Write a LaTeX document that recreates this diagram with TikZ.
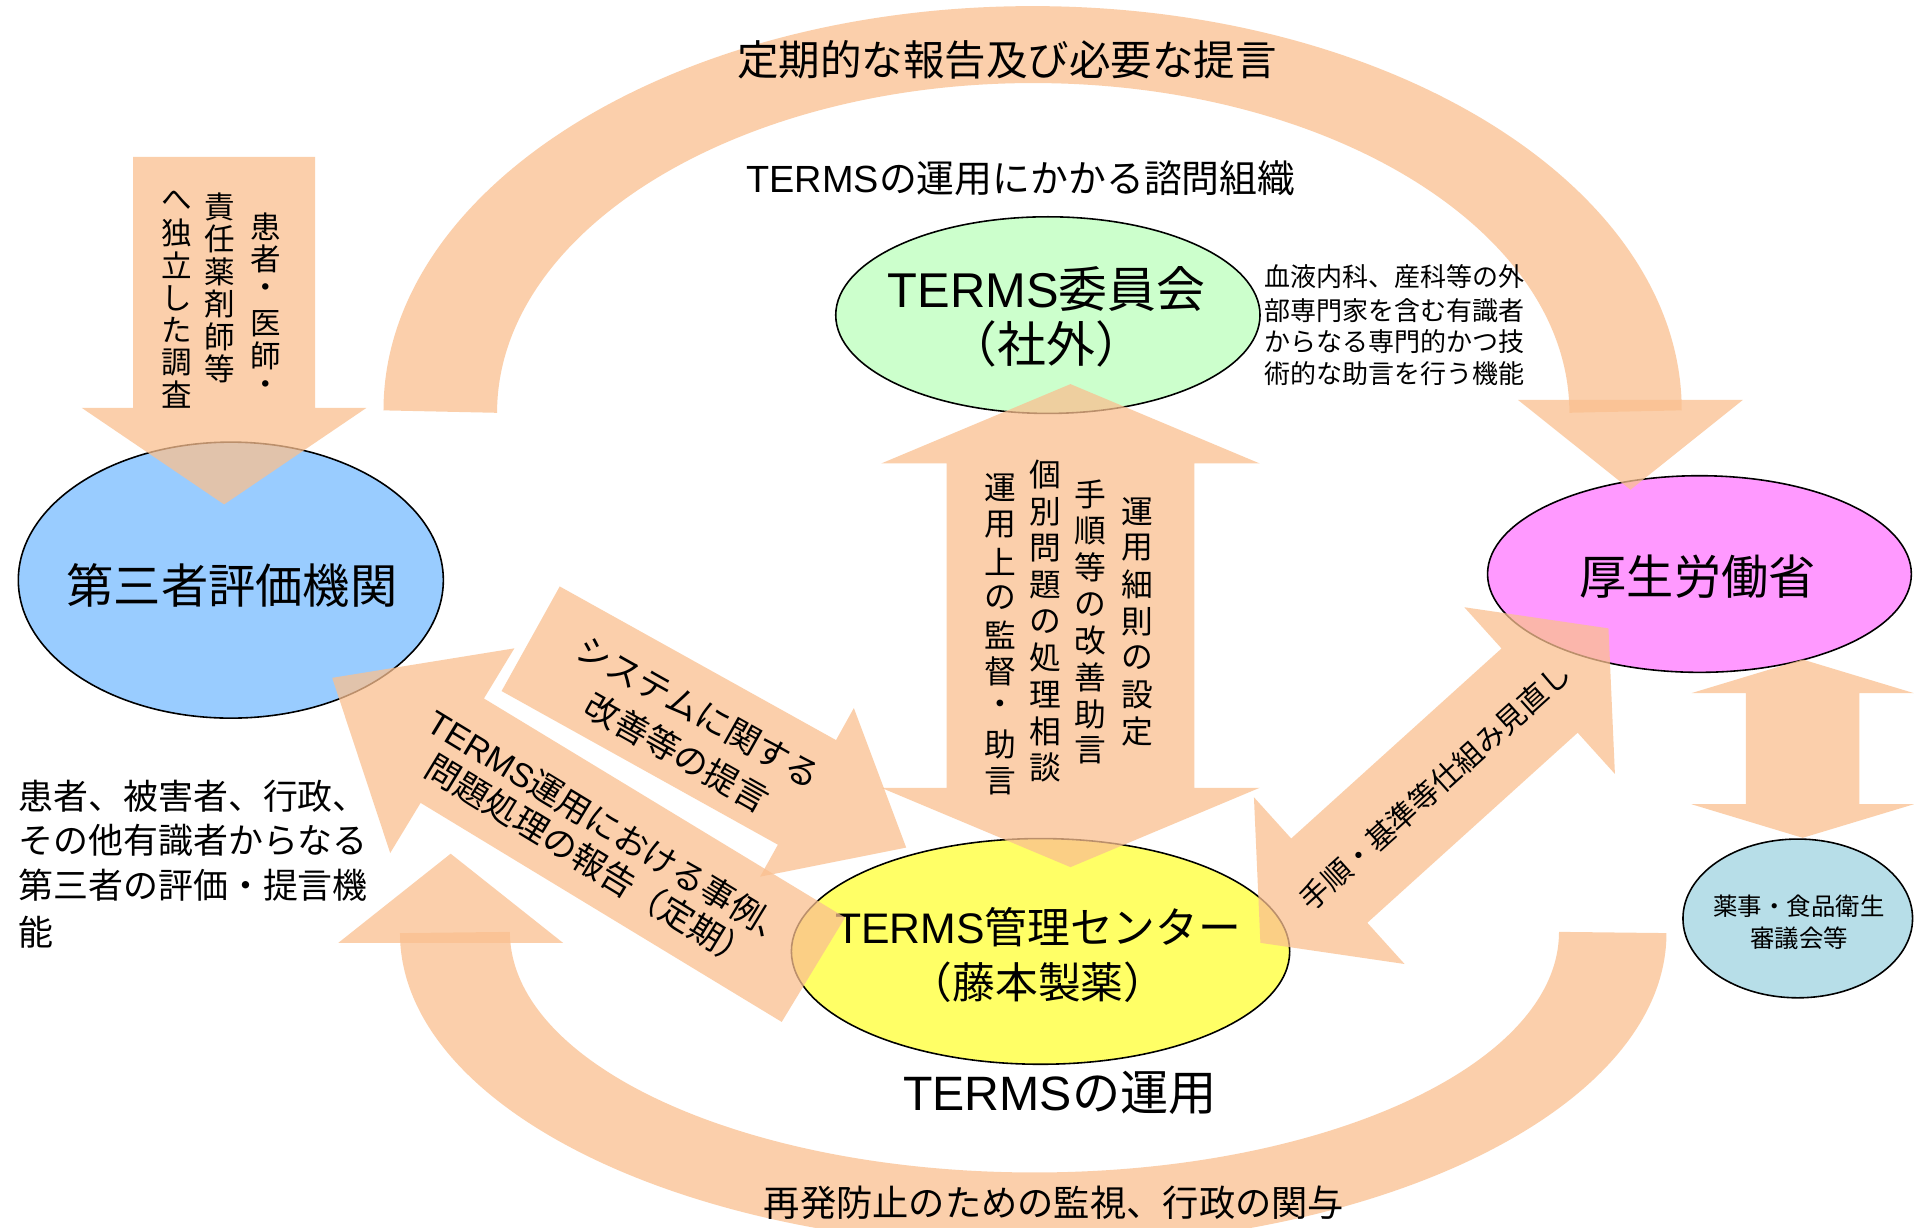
\documentclass[tikz,border=0pt]{standalone}
\usepackage{fontspec}
\setmainfont{Noto Sans CJK JP}
\newfontfamily\latf{Liberation Sans}
\usetikzlibrary{calc,shapes.geometric}
\definecolor{arrowc}{RGB}{250,192,144}
\definecolor{bluec}{RGB}{153,204,255}
\definecolor{greenc}{RGB}{204,255,204}
\definecolor{pinkc}{RGB}{255,153,255}
\definecolor{yellowc}{RGB}{255,255,102}
\definecolor{tealc}{RGB}{183,222,232}
\ExplSyntaxOn
\NewDocumentCommand\vtext{mm}{
  \vbox{\offinterlineskip
    \tl_map_inline:nn {#2}{\hbox to #1{\hss\vbox to #1{\vss\hbox{##1}\vss}\hss}}}}
\ExplSyntaxOff
\newcommand\fs[2]{\fontsize{#1}{#2}\selectfont}
% single-headed block arrow: tail, tip, body half width, head half width, head length
\newcommand\blockarrow[5]{%
  \coordinate (tmpH) at ($(#2)!#5!(#1)$);
  \fill[bandfill] ($(#1)!#3!90:(#2)$) -- ($(tmpH)!#3!90:(#2)$) -- ($(tmpH)!#4!90:(#2)$) -- (#2)
    -- ($(tmpH)!#4!-90:(#2)$) -- ($(tmpH)!#3!-90:(#2)$) -- ($(#1)!#3!-90:(#2)$) -- cycle;}
% double-headed block arrow: tip A, tip B, body half width, head half width, head length
\newcommand\dblarrow[5]{%
  \coordinate (tmpP) at ($(#1)!#5!(#2)$);
  \coordinate (tmpQ) at ($(#2)!#5!(#1)$);
  \fill[bandfill] (#1) -- ($(tmpP)!#4!90:(#2)$) -- ($(tmpP)!#3!90:(#2)$) -- ($(tmpQ)!#3!90:(#2)$)
    -- ($(tmpQ)!#4!90:(#2)$) -- (#2) -- ($(tmpQ)!#4!-90:(#2)$) -- ($(tmpQ)!#3!-90:(#2)$)
    -- ($(tmpP)!#3!-90:(#2)$) -- ($(tmpP)!#4!-90:(#2)$) -- cycle;}
\begin{document}
\begin{tikzpicture}[x=1pt,y=-1pt,
  bandfill/.style={fill=arrowc,fill opacity=0.75},
  oval/.style={ellipse,draw=black,line width=1.3pt,inner sep=0pt},
  lbl/.style={inner sep=0pt,align=center},
  vlbl/.style={inner sep=0pt,anchor=north}]
\clip (0,0) rectangle (1568,1005);
\fill[white] (0,0) rectangle (1568,1005);

% ---- ellipses
\node[oval,fill=bluec,minimum width=348pt,minimum height=226pt] (hyoka) at (189,475) {};
\node[oval,fill=greenc,minimum width=347.4pt,minimum height=161pt] (iinkai) at (858,258) {};
\node[oval,fill=pinkc,minimum width=347pt,minimum height=161pt] (mhlw) at (1391.5,470) {};
\node[oval,fill=yellowc,minimum width=408pt,minimum height=184.8pt] (kanri) at (852,779) {};
\node[oval,fill=tealc,minimum width=188pt,minimum height=130pt] (shingi) at (1472,752) {};

\node[lbl,font=\fs{38.7}{46}] (hyokaT) at (190,479) {第三者評価機関};
\node[lbl,font=\fs{40}{45}] (iinkaiT) at (857,259.5) {{\latf TERMS}委員会\\（社外）};
\node[lbl,font=\fs{38.6}{46}] (mhlwT) at (1390,472) {厚生労働省};
\node[lbl,font=\fs{35}{45.5}] (kanriT) at (850,782) {{\latf TERMS}管理センター\\（藤本製薬）};
\node[lbl,font=\fs{20}{26}] (shingiT) at (1473,755) {薬事・食品衛生\\審議会等};

% ---- top curved arrow
\fill[bandfill] (314,336) arc[start angle=180,end angle=0,x radius=531.5pt,y radius=331pt]
  -- (1285,338) arc[start angle=0,end angle=180,x radius=439pt,y radius=270pt] -- cycle;
\coordinate (topTip) at (1335,401);
\fill[bandfill] (1243,327.5) -- (1427,327.5) -- (topTip) -- cycle;

% ---- bottom curved arrow
\fill[bandfill] (327.5,764) arc[start angle=180,end angle=360,x radius=518.5pt,y radius=257pt]
  -- (1276.5,763) arc[start angle=360,end angle=180,x radius=429.5pt,y radius=197pt] -- cycle;
\coordinate (botTip) at (369,699);
\fill[bandfill] (277,772) -- (461,772) -- (botTip) -- cycle;

% ---- straight arrows
\coordinate (vA) at (183.5,128.5); \coordinate (vB) at (183.5,413);
\blockarrow{vA}{vB}{74.6pt}{116.5pt}{79pt}
\coordinate (cA) at (876.5,710); \coordinate (cB) at (876.5,314.5);
\dblarrow{cA}{cB}{101.5pt}{155pt}{65pt}
\coordinate (rA) at (1476,686); \coordinate (rB) at (1476,540);
\dblarrow{rA}{rB}{46.5pt}{91pt}{27.5pt}
\coordinate (sA) at (434.5,523); \coordinate (sB) at (742,694);
\blockarrow{sA}{sB}{49pt}{79pt}{93pt}
\coordinate (tA) at (666,794); \coordinate (tB) at (272,555);
\blockarrow{tA}{tB}{50pt}{98pt}{115pt}
\coordinate (mA) at (1032,772); \coordinate (mB) at (1317,514.5);
\dblarrow{mA}{mB}{46.5pt}{92pt}{76pt}

% ---- texts on arrows
\node[vlbl] (v1) at (218,172) {\fs{25}{25}\vtext{26.5pt}{患者・医師・}};
\node[vlbl] (v2) at (180,156) {\fs{25}{25}\vtext{26.5pt}{責任薬剤師等}};
\node[vlbl] (v3) at (145,151) {\fs{25}{25}\vtext{26.5pt}{へ独立した調査}};

\node[vlbl] (c1) at (931,403.5) {\fs{26}{26}\vtext{30pt}{運用細則の設定}};
\node[vlbl] (c2) at (893,389.5) {\fs{26}{26}\vtext{30pt}{手順等の改善助言}};
\node[vlbl] (c3) at (856,373.5) {\fs{26}{26}\vtext{30pt}{個別問題の処理相談}};
\node[vlbl] (c4) at (819,384.5) {\fs{26}{26}\vtext{30pt}{運用上の監督・助言}};

\node[lbl,rotate=-29.3,font=\fs{28}{30}] (s1) at (572,583.4) {システムに関する};
\node[lbl,rotate=-29.3,font=\fs{28}{30}] (s2) at (554.5,616) {改善等の提言};
\node[lbl,rotate=-31.3,font=\fs{27.5}{30}] (t1) at (500,678) {{\latf TERMS}運用における事例、};
\node[lbl,rotate=-31.3,font=\fs{28}{30}] (t2) at (483,705) {問題処理の報告（定期）};
\node[lbl,rotate=42,font=\fs{24}{26}] (m1) at (1175,644) {手順・基準等仕組み見直し};

% ---- free texts
\node[lbl,font=\fs{34}{40}] (title) at (824.5,49) {定期的な報告及び必要な提言};
\node[lbl,font=\fs{31}{38}] (sub) at (836,145.7) {{\latf TERMS}の運用にかかる諮問組織};
\node[lbl,font=\fs{39.5}{44}] (unyo) at (868,895) {{\latf TERMS}の運用};
\node[lbl,font=\fs{29.7}{34}] (bottom) at (863,985) {再発防止のための監視、行政の関与};

\node[lbl,anchor=west,font=\fs{28.6}{34}] (l1) at (15,652) {患者、被害者、行政、};
\node[lbl,anchor=west,font=\fs{28.6}{34}] (l2) at (15,688) {その他有識者からなる};
\node[lbl,anchor=west,font=\fs{28.6}{34}] (l3) at (15,725) {第三者の評価・提言機};
\node[lbl,anchor=west,font=\fs{28.6}{34}] (l4) at (15,763) {能};

\node[lbl,anchor=west,font=\fs{21.3}{26}] (n1) at (1035,226.5) {血液内科、産科等の外};
\node[lbl,anchor=west,font=\fs{21.3}{26}] (n2) at (1035,254) {部専門家を含む有識者};
\node[lbl,anchor=west,font=\fs{21.3}{26}] (n3) at (1035,279.8) {からなる専門的かつ技};
\node[lbl,anchor=west,font=\fs{21.3}{26}] (n4) at (1035,305.7) {術的な助言を行う機能};
\end{tikzpicture}
\end{document}
